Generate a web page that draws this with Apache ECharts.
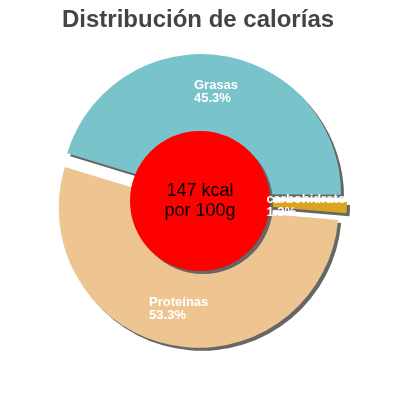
<!DOCTYPE html>
<html>
<head>
<meta charset="utf-8">
<script src="https://cdn.jsdelivr.net/npm/echarts@6/dist/echarts.min.js"></script>
<style>
html,body{margin:0;padding:0;background:#fff;}
#chart{width:400px;height:400px;}
</style>
</head>
<body>
<div id="chart"></div>
<script>
var titleText = 'Distribución de calorías';
var categories = ['Grasas', 'carbohidratos', 'Proteínas'];
var percents = [45.3, 1.3, 53.3];
var energyLines = ['147 kcal', 'por 100g'];

var colors = ['#79c3cb', '#d9a41f', '#eec591'];
var fontFam = '"Liberation Sans", Arial, sans-serif';
var labelFont = 'bold 13px ' + fontFam;

var measureCtx = document.createElement('canvas').getContext('2d');
function textW(s, font) { measureCtx.font = font; return Math.ceil(measureCtx.measureText(s).width); }

var titleW = textW(titleText, 'bold 24px ' + fontFam);

var sliceData = categories.map(function (name, i) {
  var valText = percents[i].toFixed(1) + '%';
  var w = Math.max(textW(name, labelFont), textW(valText, labelFont));
  return {
    name: name,
    value: percents[i],
    selected: true,
    itemStyle: { color: colors[i] },
    select: { itemStyle: { color: colors[i], borderWidth: 0 } },
    label: {
      formatter: '{n|' + name + '}\n{n|' + valText + '}',
      rich: { n: { width: w, align: 'left', color: '#fff', fontSize: 13, fontWeight: 'bold',
        fontFamily: fontFam, lineHeight: 13 } }
    }
  };
});

var chart = echarts.init(document.getElementById('chart'), null, { renderer: 'canvas' });
chart.setOption({
  animation: false,
  backgroundColor: '#fff',
  title: {
    text: titleText,
    left: Math.round(198 - titleW / 2),
    top: 8,
    padding: 0,
    textStyle: { fontSize: 24, fontWeight: 'bold', color: '#444', fontFamily: fontFam }
  },
  series: [
    {
      type: 'pie',
      center: [200, 201],
      radius: [60, 140],
      startAngle: 163,
      clockwise: true,
      selectedMode: 'multiple',
      selectedOffset: 7,
      silent: true,
      avoidLabelOverlap: false,
      itemStyle: {
        borderWidth: 0,
        shadowBlur: 0,
        shadowOffsetX: 3,
        shadowOffsetY: 3,
        shadowColor: '#666'
      },
      label: {
        show: true,
        position: 'inside',
        color: '#fff',
        textBorderWidth: 0
      },
      labelLine: { show: false },
      emphasis: { disabled: true },
      data: sliceData
    },
    {
      type: 'pie',
      center: [200, 201],
      radius: [0, 70],
      silent: true,
      itemStyle: {
        color: '#ff0000',
        shadowBlur: 0,
        shadowOffsetX: 3,
        shadowOffsetY: 3,
        shadowColor: '#666'
      },
      label: {
        show: true,
        position: 'center',
        formatter: energyLines.join('\n'),
        color: '#000',
        fontSize: 18,
        lineHeight: 20,
        fontFamily: fontFam
      },
      labelLine: { show: false },
      emphasis: { disabled: true },
      data: [{ name: 'energia', value: 147 }]
    }
  ]
});
</script>
</body>
</html>
